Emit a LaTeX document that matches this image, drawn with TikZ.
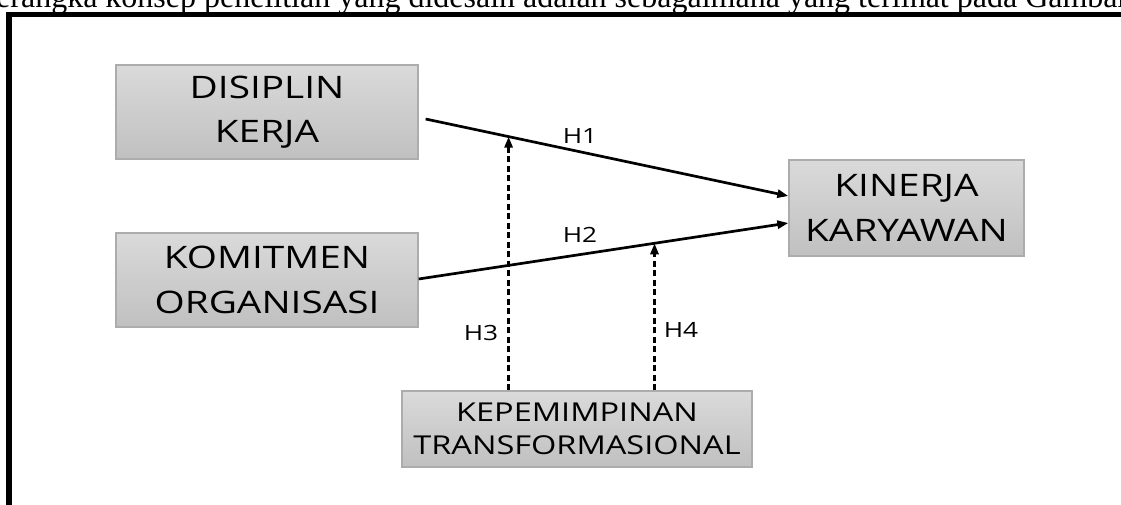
\documentclass[tikz,border=0pt]{standalone}
\usepackage{fontspec}
\setmainfont{Open Sans}
\newfontfamily\boxfont[FakeStretch=1.25]{Open Sans}
\newfontfamily\hdrfont{Liberation Serif}
\usetikzlibrary{arrows.meta}
\definecolor{boxtop}{RGB}{218,218,218}
\definecolor{boxbot}{RGB}{192,192,192}
\definecolor{boxline}{RGB}{172,172,172}
\begin{document}
\begin{tikzpicture}[x=1pt,y=-1pt,
  varbox/.style={draw=boxline, line width=1.3pt, top color=boxtop, bottom color=boxbot,
    inner sep=0pt, align=center},
  bigtext/.style={font=\boxfont\fontsize{31}{44.5}\selectfont},
  smalltext/.style={font=\boxfont\fontsize{26}{33}\selectfont},
  solidarrow/.style={line width=2.7pt, -{Triangle[length=11pt,width=8pt]}},
  dasharrow/.style={line width=3pt, dash pattern=on 6pt off 3.5pt, -{Triangle[length=11pt,width=8pt]}},
  hlabel/.style={font=\boxfont\fontsize{21}{24}\selectfont, inner sep=0pt}]
\useasboundingbox (0,0) rectangle (1121,504);
\clip (0,0) rectangle (1121,504);
\node[anchor=base west, inner sep=0pt, font=\hdrfont\fontsize{32}{32}\selectfont] (hdr) at (-4,7)
  {erangka konsep penelitian yang didesain adalah sebagaimana yang terlihat pada Gambar};
\draw[line width=5.5pt] (9,540) -- (9,14.5) -- (1140,14.5);
\node[varbox, bigtext, minimum width=302pt, minimum height=94pt] (dk) at (267,112) {DISIPLIN\\KERJA};
\node[varbox, bigtext, minimum width=302pt, minimum height=94pt] (ko) at (267,280) {KOMITMEN\\ORGANISASI};
\node[varbox, bigtext, minimum width=235pt, minimum height=96pt] (kk) at (906.5,208) {KINERJA\\KARYAWAN};
\node[varbox, smalltext, minimum width=350pt, minimum height=76pt] (kt) at (577,429) {KEPEMIMPINAN\\TRANSFORMASIONAL};
\draw[solidarrow] ([shift={(7,7)}]dk.east) -- coordinate[pos=0.2287] (m1) ([shift={(0,-12)}]kk.west);
\draw[solidarrow] ([shift={(0,-1)}]ko.east) -- coordinate[pos=0.638] (m2) ([shift={(0,15)}]kk.west);
\draw[dasharrow] (m1 |- kt.north) -- (m1);
\draw[dasharrow] (m2 |- kt.north) -- (m2);
\node[hlabel] (h1) at (580,136) {H1};
\node[hlabel] (h2) at (580,235) {H2};
\node[hlabel] (h3) at (481,333) {H3};
\node[hlabel] (h4) at (681,330) {H4};
\end{tikzpicture}
\end{document}
